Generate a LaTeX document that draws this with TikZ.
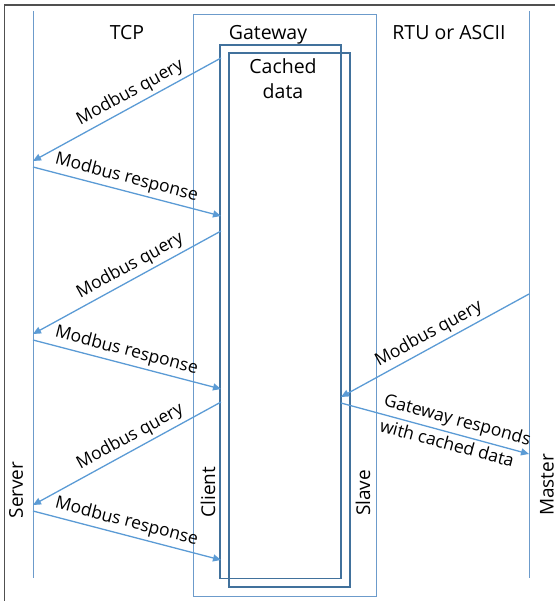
\documentclass[tikz,border=0pt]{standalone}
\usepackage{fontspec}
\setmainfont{Open Sans}
\usepackage{tikz}
\usetikzlibrary{arrows.meta}
\definecolor{msgblue}{HTML}{5B9BD5}
\definecolor{lineblue}{HTML}{6C9BCB}
\definecolor{boxblue}{HTML}{41719C}
\definecolor{framegray}{HTML}{505050}

\begin{document}
\begin{tikzpicture}[x=1pt,y=-1pt,
  frame/.style={draw=framegray,line width=1.6pt},
  life/.style={draw=lineblue,line width=0.9pt},
  cache/.style={draw=boxblue,line width=1.6pt},
  msg/.style={draw=msgblue,line width=1.3pt,-{Triangle[length=8pt,width=7pt]}},
  head/.style={font=\fontsize{19.5}{25}\selectfont,inner sep=0pt},
  role/.style={font=\fontsize{19}{22}\selectfont,rotate=90,inner sep=0pt},
  lab/.style={font=\fontsize{17.5}{20}\selectfont,sloped,above,inner sep=3.5pt}]
\useasboundingbox (0,0) rectangle (555,601);
\draw[frame] (4.5,601) -- (4.5,5) -- (555,5);
% lifelines
\coordinate (srvtop) at (33,11);  \coordinate (srvbot) at (33,578);
\coordinate (msttop) at (529,11); \coordinate (mstbot) at (529,578);
\draw[life] (srvtop) -- (srvbot);
\draw[life] (msttop) -- (mstbot);
% gateway and its cache
\draw[life] (193.7,14.7) rectangle (376.7,596.7);
\draw[cache] (219.7,45) rectangle (341,578.3);
\draw[cache] (228.7,53.3) rectangle (350,586.7);
\node[head,anchor=base] (tcp) at (127,39.3) {TCP};
\node[head,anchor=base] (gw) at (268,39.3) {Gateway};
\node[head,anchor=base] (rtu) at (449,39.3) {RTU or ASCII};
\node[head,align=center,anchor=north] (cached) at (283,58) {Cached\\data};
\node[role] (server) at (16,490) {Server};
\node[role] (client) at (208,492) {Client};
\node[role] (slave) at (363,493) {Slave};
\node[role] (master) at (547,485) {Master};
% TCP side
\foreach \y [count=\k] in {58,231,402}{
  \coordinate (gq\k) at (221,\y);
  \coordinate (sq\k) at (33,\y+103);
  \coordinate (sr\k) at (33,\y+109);
  \coordinate (gr\k) at (221,\y+158);
  \draw[msg] (gq\k) -- node[lab,pos=0.45] {Modbus query} (sq\k);
  \draw[msg] (sr\k) -- node[lab,pos=0.48] {Modbus response} (gr\k);
}
% RTU side
\coordinate (mq) at (529,294); \coordinate (cq) at (341,397);
\coordinate (cr) at (341,403); \coordinate (mr) at (529,454);
\draw[msg] (mq) -- node[lab,pos=0.5] {Modbus query} (cq);
\draw[msg] (cr) -- node[lab,pos=0.6] {Gateway responds}
  node[lab,pos=0.58,below] {with cached data} (mr);
\end{tikzpicture}
\end{document}
